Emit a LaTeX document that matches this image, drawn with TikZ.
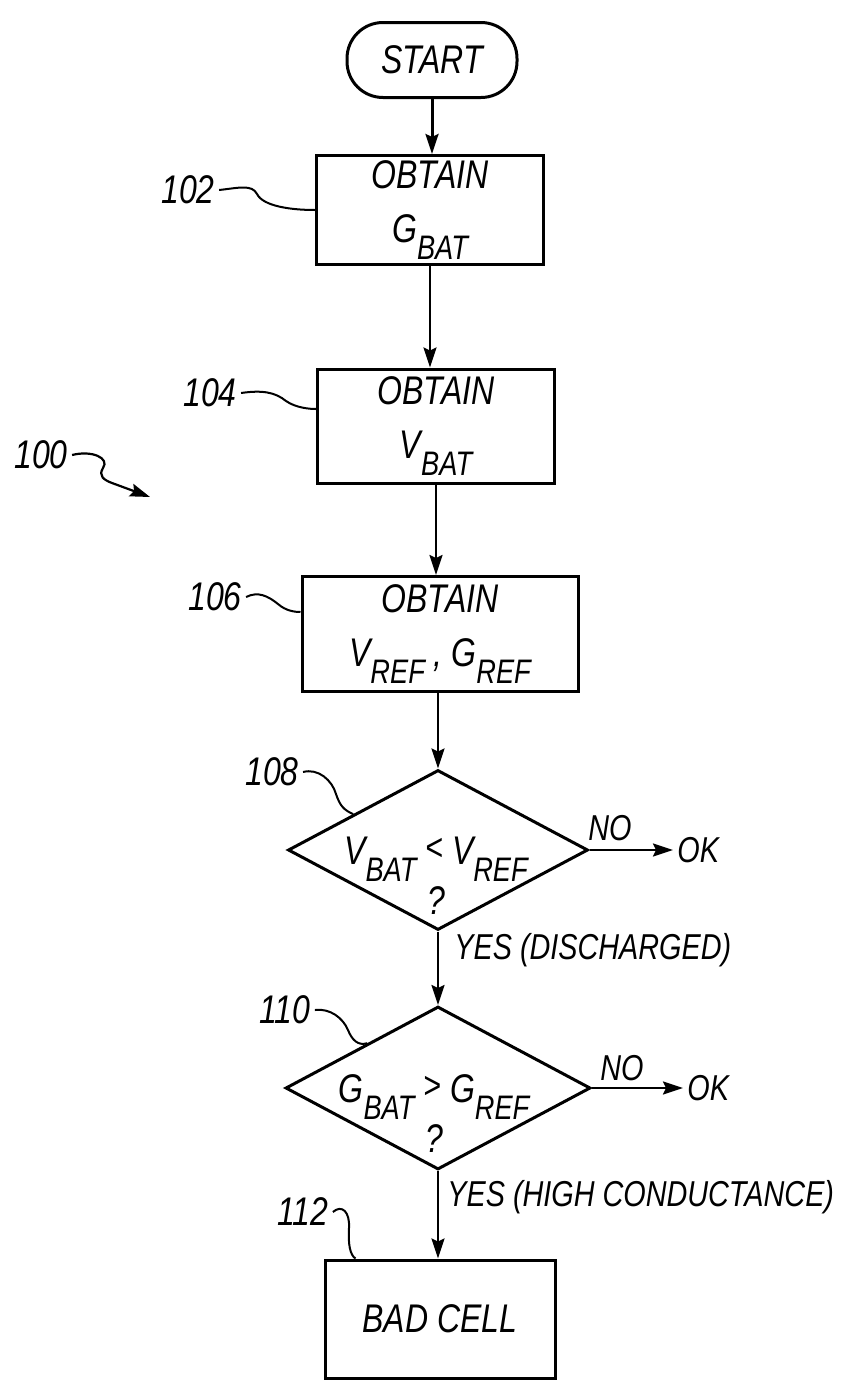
\documentclass[tikz,border=0pt]{standalone}
\usepackage{fontspec}
\newfontfamily\handfont{Liberation Sans}[FakeStretch=0.8]
\usetikzlibrary{arrows.meta,calc,positioning,shapes.geometric}
\newcommand{\hand}{\handfont\itshape\fontsize{20}{25}\selectfont}
\newcommand{\lo}[1]{\raisebox{-0.8ex}{\fontsize{17}{17}\selectfont #1}}
\newcommand{\rel}[1]{\raisebox{0.2ex}{\fontsize{19}{19}\selectfont #1}}
\tikzset{>={Stealth[length=10pt,width=6.5pt,inset=1.5pt]}}

\begin{document}
\begin{tikzpicture}[x=0.5pt,y=-0.5pt,
  every node/.style={font=\hand, inner sep=2pt},
  note/.style={font=\hand\fontsize{18}{22}\selectfont},
  term/.style={draw, line width=1.5pt, rounded corners=18pt, minimum width=85pt, minimum height=37.5pt},
  stepbox/.style={draw, line width=1.5pt, align=center, inner sep=0pt},
  decide/.style={draw, diamond, line width=1.5pt, inner sep=0pt},
  flow/.style={->, line width=1.1pt},
  lead/.style={line width=1pt}]
\useasboundingbox (0,0) rectangle (843,1381);
%%%% steps
\node[term] (start) at (432,60) {START};
\node[stepbox, minimum width=113.5pt, minimum height=54.5pt] (b102) at (430,210) {OBTAIN\\[2pt]G\lo{BAT}};
\node[stepbox, minimum width=118.5pt, minimum height=57pt] (b104) at (436,426) {OBTAIN\\[2pt]V\lo{BAT}};
\node[stepbox, minimum width=138pt, minimum height=57.5pt] (b106) at (440,634) {OBTAIN\\[2pt]V\lo{REF} , G\lo{REF}};
\node[decide, minimum width=150pt, minimum height=80pt] (d108) at (438,850) {};
\node[align=center] (t108) at (436,876) {V\lo{BAT} \rel{<} V\lo{REF}\\?};
\node[decide, minimum width=152.5pt, minimum height=81.5pt] (d110) at (438,1088) {};
\node[align=center] (t110) at (434,1114) {G\lo{BAT} \rel{>} G\lo{REF}\\?};
\node[stepbox, minimum width=115pt, minimum height=59pt] (bad) at (440,1319) {BAD CELL};
%%%% outcomes
\node[note, anchor=west] (ok1) at (673,850) {OK};
\node[note, anchor=west] (ok2) at (683,1088) {OK};
\node[note] (no1) at (610,828) {NO};
\node[note] (no2) at (622,1068) {NO};
\node[note, anchor=west] (yes1) at (450,950) {YES (DISCHARGED)};
\node[note, anchor=west] (yes2) at (443,1197) {YES (HIGH CONDUCTANCE)};
%%%% reference numerals
\node (l100) at (41,455) {100};
\node (l102) at (188,190) {102};
\node (l104) at (210,393) {104};
\node (l106) at (215,597) {106};
\node (l108) at (272,772) {108};
\node (l110) at (285,1010) {110};
\node (l112) at (303,1212) {112};
\coordinate (p100) at (150,497);
%%%% flow lines
\draw[flow, line width=1.5pt] (start.south) -- (start.south |- b102.north);
\draw[flow] (b102.south) -- (b102.south |- b104.north);
\draw[flow] (b104.south) -- (b104.south |- b106.north);
\draw[flow] (b106.south -| d108.north) -- (d108.north);
\draw[flow] (d108.south) -- (d110.north);
\draw[flow] (d110.south) -- (d110.south |- bad.north);
\draw[flow] (d108.east) -- (ok1.west);
\draw[flow] (d110.east) -- (ok2.west);
%%%% leaders
\draw[flow] (l100.east) .. controls (92,450) and (110,458) .. (103,468) .. controls (98,476) and (104,480) .. (112,483) -- (p100);
\draw[lead] (l102.east) .. controls (238,188) and (252,184) .. (257,194) .. controls (263,206) and (290,210) .. (b102.west);
\draw[lead] (l104.east) .. controls (262,390) and (275,392) .. (286,401) .. controls (296,408) and (310,409) .. ([yshift=8.5pt]b104.west);
\draw[lead] (l106.east) .. controls (258,591) and (268,596) .. (278,604) .. controls (286,611) and (295,612) .. ([yshift=11pt]b106.west);
\draw[lead] (l108.east) .. controls (318,768) and (332,780) .. (336,794) .. controls (340,806) and (344,810) .. ($(d108.north)!0.56!(d108.west)$);
\draw[lead] (l110.east) .. controls (330,1008) and (343,1018) .. (348,1030) .. controls (352,1040) and (358,1046) .. ($(d110.north)!0.46!(d110.west)$);
\draw[lead] (l112.east) .. controls (342,1204) and (350,1212) .. (349,1228) .. controls (348,1244) and (350,1255) .. ([xshift=16pt]bad.north west);
\end{tikzpicture}
\end{document}
